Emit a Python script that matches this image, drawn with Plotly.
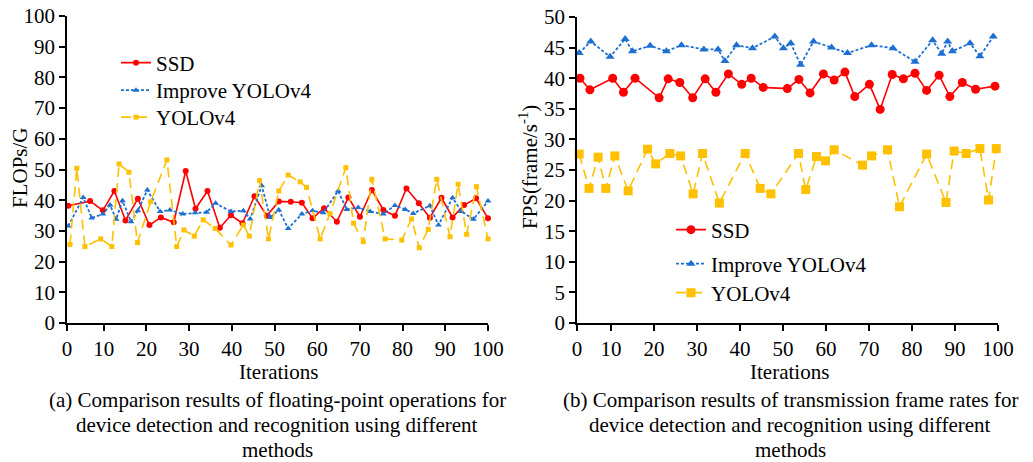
import plotly.graph_objects as go

# ---------------- data: (a) FLOPs ----------------
a_ssd_x = [1.7, 6.8, 9.8, 12.5, 15.1, 18.0, 20.7, 23.4, 26.4, 29.2, 31.5, 34.3, 37.2, 39.8, 42.5, 45.3, 48.2,
           51.0, 53.8, 56.4, 58.9, 61.6, 64.6, 67.3, 70.0, 72.8, 75.5, 78.2, 80.9, 83.8, 86.4, 89.1, 91.7,
           94.4, 97.2, 100.0]
a_ssd_y = [38.2, 39.7, 36.7, 43.0, 33.4, 40.5, 31.9, 34.4, 32.8, 49.5, 37.2, 43.0, 31.0, 35.1, 32.5, 41.3, 34.9,
           39.6, 39.5, 39.2, 34.1, 37.4, 33.0, 40.9, 34.6, 43.3, 36.8, 34.9, 43.8, 39.0, 34.3, 40.8, 34.4,
           38.4, 40.6, 34.1]

a_imp_x = [1.7, 5.2, 7.2, 9.8, 11.5, 12.9, 14.4, 16.4, 18.0, 20.2, 23.2, 25.5, 28.5, 31.4, 34.1, 36.2, 39.8,
           42.7, 44.3, 47.0, 49.0, 51.0, 53.2, 56.4, 58.9, 61.4, 64.9, 66.9, 69.6, 72.4, 75.5, 78.2, 80.6,
           82.5, 86.4, 88.4, 91.7, 93.8, 96.6, 100.0]
a_imp_y = [31.6, 40.9, 34.2, 35.5, 38.4, 33.8, 39.8, 33.0, 36.6, 43.3, 36.3, 36.8, 35.5, 35.9, 36.1, 39.0, 36.3,
           36.6, 33.9, 44.7, 34.4, 36.8, 30.8, 35.5, 36.6, 35.9, 43.0, 37.0, 37.6, 36.3, 35.5, 38.3, 37.0,
           35.7, 38.2, 31.9, 40.8, 36.3, 33.8, 39.7]

a_yolo_x = [2.1, 3.7, 5.6, 9.3, 11.9, 13.6, 15.9, 17.9, 21.0, 24.8, 27.1, 28.8, 31.2, 33.3, 36.1, 39.8, 42.7,
            44.1, 46.5, 48.6, 51.0, 53.2, 56.0, 57.5, 60.7, 63.0, 66.7, 68.5, 70.8, 72.8, 75.9, 79.8, 82.1,
            83.9, 86.0, 88.0, 91.1, 93.0, 95.0, 97.3, 100.0]
a_yolo_y = [25.6, 50.4, 24.9, 27.4, 24.9, 51.8, 49.1, 26.2, 39.5, 53.1, 24.9, 30.3, 28.3, 33.6, 30.8, 25.4, 31.9,
            28.3, 46.4, 27.4, 43.0, 48.2, 46.0, 44.2, 27.4, 35.7, 50.6, 32.5, 26.5, 46.8, 27.4, 27.0, 33.9,
            24.5, 30.5, 46.8, 28.1, 45.2, 28.9, 44.4, 27.4]

# ---------------- data: (b) FPS ----------------
b_ssd_x = [2.8, 5.1, 10.4, 12.9, 15.6, 21.2, 23.3, 26.0, 29.0, 31.9, 34.4, 37.3, 40.4, 42.6, 45.4, 51.0, 53.7,
           56.3, 59.4, 61.9, 64.4, 66.7, 70.1, 72.6, 75.4, 78.0, 80.7, 83.4, 86.3, 88.8, 91.7, 94.8, 99.3]
b_ssd_y = [40.0, 38.1, 40.0, 37.7, 40.0, 36.8, 39.9, 39.3, 36.8, 39.9, 37.7, 40.7, 39.0, 40.0, 38.5, 38.3, 39.8,
           37.6, 40.7, 39.7, 41.0, 37.0, 39.0, 34.9, 40.6, 39.9, 40.8, 38.0, 40.5, 37.0, 39.3, 38.2, 38.7]

b_imp_x = [2.6, 5.3, 9.8, 13.3, 15.0, 19.1, 22.9, 26.4, 31.6, 34.9, 36.5, 39.2, 42.9, 48.1, 50.1, 51.8, 54.1,
           57.1, 61.3, 65.0, 70.6, 75.6, 80.7, 84.8, 86.9, 88.3, 89.4, 93.5, 95.8, 98.9]
b_imp_y = [44.1, 46.0, 43.5, 46.4, 44.4, 45.3, 44.4, 45.4, 44.7, 44.7, 42.8, 45.4, 44.9, 46.8, 44.9, 45.7, 42.2,
           46.0, 45.0, 44.1, 45.4, 44.9, 42.7, 46.2, 44.0, 46.0, 44.4, 45.7, 43.6, 46.8]

b_yolo_x = [2.6, 4.9, 7.0, 8.8, 10.9, 14.0, 18.5, 20.4, 23.7, 26.2, 29.1, 31.3, 35.2, 41.2, 44.7, 47.2, 53.6,
            55.3, 57.8, 59.9, 61.9, 68.5, 70.6, 74.3, 77.1, 83.4, 87.9, 89.8, 92.6, 95.8, 97.8, 99.6]
b_yolo_y = [27.6, 22.0, 27.1, 22.0, 27.3, 21.6, 28.4, 26.0, 27.7, 27.3, 21.1, 27.7, 19.6, 27.7, 22.0, 21.1, 27.7,
            21.8, 27.2, 26.5, 28.3, 25.8, 27.3, 28.3, 19.0, 27.6, 19.7, 28.1, 27.7, 28.5, 20.1, 28.5]

series_names = ["SSD", "Improve YOLOv4", "YOLOv4"]
x_ticks = [0, 10, 20, 30, 40, 50, 60, 70, 80, 90, 100]

RED = "#FF0000"
BLUE = "#1E6FD2"
YEL = "#FFC000"
FONT = "Liberation Serif, Times New Roman, serif"
W, H = 1033, 462

fig = go.Figure()

def add(x, y, name, color, dash, symbol, size, xa, ya, legend, width):
    fig.add_trace(go.Scatter(
        x=x, y=y, name=name, mode="lines+markers", xaxis=xa, yaxis=ya, legend=legend,
        line=dict(color=color, dash=dash, width=width),
        marker=dict(color=color, symbol=symbol, size=size),
        cliponaxis=False, showlegend=True))

add(a_ssd_x, a_ssd_y, series_names[0], RED, "solid", "circle", 6, "x", "y", "legend", 1.6)
add(a_imp_x, a_imp_y, series_names[1], BLUE, "3px,2px", "triangle-up", 6, "x", "y", "legend2", 1.8)
add(a_yolo_x, a_yolo_y, series_names[2], YEL, "10px,6px", "square", 5, "x", "y", "legend3", 1.6)

add(b_ssd_x, b_ssd_y, series_names[0], RED, "solid", "circle", 9, "x2", "y2", "legend4", 1.6)
add(b_imp_x, b_imp_y, series_names[1], BLUE, "3px,2px", "triangle-up", 8, "x2", "y2", "legend5", 1.8)
add(b_yolo_x, b_yolo_y, series_names[2], YEL, "10px,6px", "square", 9, "x2", "y2", "legend6", 1.6)

axis_common = dict(showline=True, linecolor="black", linewidth=1.5, ticks="outside", ticklen=6,
                   tickwidth=1.5, tickcolor="black", showgrid=False, zeroline=False, automargin=False,
                   tickfont=dict(family=FONT, size=21, color="black"))

def leg(xpx, ypx):
    return dict(x=xpx / W, y=1 - ypx / H, xanchor="left", yanchor="middle", bgcolor="rgba(0,0,0,0)",
                font=dict(family=FONT, size=21, color="black"), itemwidth=30)

x0a, x0b = 1.4, 2.1
fig.update_layout(
    width=W, height=H, margin=dict(l=0, r=0, t=0, b=0, autoexpand=False),
    paper_bgcolor="white", plot_bgcolor="white", showlegend=True,
    font=dict(family=FONT, color="black"),
    xaxis=dict(domain=[67 / W, 488 / W], anchor="y", range=[x0a, 100],
               tickvals=[x0a] + x_ticks[1:], ticktext=[str(t) for t in x_ticks], **axis_common),
    yaxis=dict(domain=[1 - 323 / H, 1 - 16 / H], anchor="x", range=[0, 100], dtick=10, **axis_common),
    xaxis2=dict(domain=[577 / W, 998 / W], anchor="y2", range=[x0b, 100],
                tickvals=[x0b] + x_ticks[1:], ticktext=[str(t) for t in x_ticks], **axis_common),
    yaxis2=dict(domain=[1 - 323 / H, 1 - 17 / H], anchor="x2", range=[0, 50], dtick=5, **axis_common),
    legend=leg(116, 63),
    legend2=leg(116, 90.5),
    legend3=leg(116, 117.5),
    legend4=leg(671, 230),
    legend5=leg(671, 264),
    legend6=leg(671, 293),
)

ann = []
def text(x, y, s, size=21, angle=0):
    ann.append(dict(x=x / W, y=1 - y / H, xref="paper", yref="paper", text=s, showarrow=False,
                    textangle=angle, font=dict(family=FONT, size=size, color="black"),
                    xanchor="center", yanchor="middle"))

text(278, 372, "Iterations", 21)
text(789, 372, "Iterations", 21)
text(20, 168, "FLOPs/G", 21, -90)
text(528, 167, "FPS(frame/s<sup>-1</sup>)", 21, -90)

cap_a = ["(a) Comparison results of floating-point operations for",
         "device detection and recognition using different", "methods"]
cap_b = ["(b) Comparison results of transmission frame rates for",
         "device detection and recognition using different", "methods"]
for i, (la, lb) in enumerate(zip(cap_a, cap_b)):
    text(277, 400 + 25 * i, la, 21)
    text(790, 400 + 25 * i, lb, 21)

fig.update_layout(annotations=ann)
fig.write_html("out.html")
